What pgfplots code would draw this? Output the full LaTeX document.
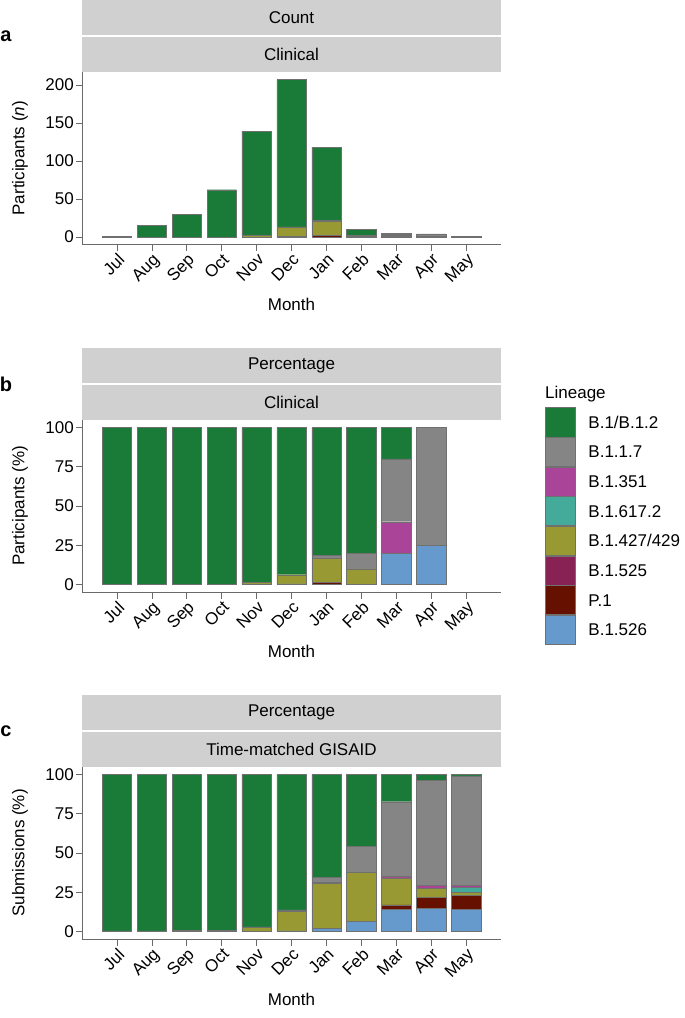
\documentclass[border=0pt]{standalone}
\usepackage{fontspec}
\setmainfont{Liberation Sans}
\setsansfont{Liberation Sans}
\usepackage{pgfplots}
\usepackage{pgfplotstable}
\pgfplotsset{compat=1.18}

\definecolor{cB1}{HTML}{1A7A38}
\definecolor{cB117}{HTML}{858585}
\definecolor{cB1351}{HTML}{AA4499}
\definecolor{cB16172}{HTML}{44AA99}
\definecolor{cB1427}{HTML}{999933}
\definecolor{cB1525}{HTML}{882255}
\definecolor{cP1}{HTML}{661100}
\definecolor{cB1526}{HTML}{6699CC}
\definecolor{cNA}{HTML}{7F7F6A}
\definecolor{stripgray}{HTML}{D0D0D0}
\definecolor{axgray}{HTML}{6A6A6A}
\definecolor{bargray}{HTML}{707070}

\newcommand\fs{\fontsize{17}{20}\selectfont}

% Panel a: counts (clinical)
\pgfplotstableread{
x b1 b117 b1351 b16172 b1427 b1525 p1 b1526 na
1 1 0 0 0 0 0 0 0 0
2 15 0 0 0 0 0 0 0 0
3 30 0 0 0 0 0 0 0 0
4 62 0 0 0 0 0 0 0 0
5 137 0 0 0 2 0 0 0 0
6 194 0 0 0 12 0 0 1 0
7 96 2 0 0 18 0 2 0 0
8 8 1 0 0 1 0 0 0 0
9 1 2 1 0 0 0 0 1 0
10 0 3 0 0 0 0 0 1 0
11 0 0 0 0 0 0 0 0 1
}\dataA

% Panel b: percentage (clinical)
\pgfplotstableread{
x b1 b117 b1351 b16172 b1427 b1525 p1 b1526
1 100 0 0 0 0 0 0 0
2 100 0 0 0 0 0 0 0
3 100 0 0 0 0 0 0 0
4 100 0 0 0 0 0 0 0
5 98.6 0 0 0 1.4 0 0 0
6 93.7 0 0 0 5.8 0 0 0.5
7 81.4 1.7 0 0 15.2 0 1.7 0
8 80 10 0 0 10 0 0 0
9 20 40 20 0 0 0 0 20
10 0 75 0 0 0 0 0 25
11 0 0 0 0 0 0 0 0
}\dataB

% Panel c: percentage (time-matched GISAID)
\pgfplotstableread{
x b1 b117 b1351 b16172 b1427 b1525 p1 b1526
1 99.5 0.5 0 0 0 0 0 0
2 99.5 0.5 0 0 0 0 0 0
3 99.2 0 0 0 0 0 0.8 0
4 99.0 0 0 0 0 0 1.0 0
5 97.0 0.5 0 0 2.5 0 0 0
6 86.2 0.7 0 0 12.6 0 0 0.5
7 65.3 3.5 0.3 0 29.0 0 0 1.9
8 45.8 16.4 0.3 0 31.1 0 0 6.4
9 17.4 47.4 1.0 0 17.2 0 2.7 14.3
10 3.8 66.8 1.7 0 5.7 0 7.0 15.0
11 1.0 69.4 1.3 3.3 1.7 0.3 8.8 14.2
}\dataC

\pgfplotsset{
  panel/.style={
    anchor=north west, width=419pt, height=173pt, scale only axis,
    xmin=0, xmax=12, xtick={1,...,11},
    xticklabels={Jul,Aug,Sep,Oct,Nov,Dec,Jan,Feb,Mar,Apr,May},
    axis x line*=bottom, axis y line*=left,
    axis line style={line width=0.6pt, draw=axgray},
    tick align=outside, major tick length=6pt,
    tick style={line width=0.6pt, draw=axgray},
    ticklabel style={font=\fs},
    xticklabel style={rotate=45, anchor=north east, inner sep=1pt},
    yticklabel style={inner sep=2pt},
    /pgf/number format/assume math mode=true,
    ybar stacked, bar width=0.84,
    every axis plot/.append style={draw=bargray, line width=0.45pt},
    every axis plot post/.append style={
      legend image code/.code={\draw[##1, draw=bargray, line width=0.45pt] (0pt,-14.6pt) rectangle (30pt,14.6pt);}},
  },
  lineages/.style={},
}

\newcommand\stackplots[1]{%
  \addplot[fill=cB1526] table[x=x,y=b1526]{#1};
  \addplot[fill=cP1] table[x=x,y=p1]{#1};
  \addplot[fill=cB1525] table[x=x,y=b1525]{#1};
  \addplot[fill=cB1427] table[x=x,y=b1427]{#1};
  \addplot[fill=cB16172] table[x=x,y=b16172]{#1};
  \addplot[fill=cB1351] table[x=x,y=b1351]{#1};
  \addplot[fill=cB117] table[x=x,y=b117]{#1};
  \addplot[fill=cB1] table[x=x,y=b1]{#1};
}

\begin{document}
\begin{tikzpicture}
\useasboundingbox (0pt,0pt) rectangle (685pt,-1018pt);

% ---------- strips ----------
\fill[stripgray] (82pt,0pt) rectangle (501pt,-35pt);
\fill[stripgray] (82pt,-37pt) rectangle (501pt,-71.7pt);
\node[font=\fs] at (291.5pt,-17.5pt) {Count};
\node[font=\fs] at (291.5pt,-54.4pt) {Clinical};

\fill[stripgray] (82pt,-347.8pt) rectangle (501pt,-382.8pt);
\fill[stripgray] (82pt,-384.8pt) rectangle (501pt,-419.5pt);
\node[font=\fs] at (291.5pt,-365.3pt) {Percentage};
\node[font=\fs] at (291.5pt,-402.2pt) {Clinical};

\fill[stripgray] (82pt,-694.8pt) rectangle (501pt,-729.8pt);
\fill[stripgray] (82pt,-731.8pt) rectangle (501pt,-766.5pt);
\node[font=\fs] at (291.5pt,-712.3pt) {Percentage};
\node[font=\fs] at (291.5pt,-749.2pt) {Time-matched GISAID};

% ---------- panel a ----------
\begin{axis}[panel, at={(82pt,-71.7pt)},
  ymin=-10.35, ymax=217.35, ytick={0,50,100,150,200}]
  \stackplots{\dataA}
  \addplot[fill=cNA] table[x=x,y=na]{\dataA};
\end{axis}

% ---------- panel b ----------
\begin{axis}[panel, at={(82pt,-419.5pt)},
  ymin=-5, ymax=105, ytick={0,25,50,75,100},
  reverse legend,
  legend style={at={(axis description cs:1.105,1.0705)}, anchor=north west,
    draw=none, fill=none, inner sep=0pt, outer sep=0pt,
    row sep=0pt, column sep=13pt, cells={anchor=west},
    nodes={inner sep=0pt, font=\fs, text height=12.3pt, text depth=0pt}},
  ]
  \stackplots{\dataB}
  \legend{B.1.526,P.1,B.1.525,B.1.427/429,B.1.617.2,B.1.351,B.1.1.7,B.1/B.1.2}
\end{axis}

% ---------- panel c ----------
\begin{axis}[panel, at={(82pt,-766.5pt)},
  ymin=-5, ymax=105, ytick={0,25,50,75,100}]
  \stackplots{\dataC}
\end{axis}

% ---------- labels ----------
\node[font=\fs, rotate=90] at (20pt,-158.2pt) {Participants (\textit{n})};
\node[font=\fs, rotate=90] at (20pt,-506pt) {Participants (\%)};
\node[font=\fs, rotate=90] at (20pt,-853pt) {Submissions (\%)};

\node[font=\fs] at (291.5pt,-304pt) {Month};
\node[font=\fs] at (291.5pt,-651.8pt) {Month};
\node[font=\fs] at (291.5pt,-999pt) {Month};

\node[font=\fontsize{20}{24}\bfseries\selectfont] at (6pt,-36pt) {a};
\node[font=\fontsize{20}{24}\bfseries\selectfont] at (6pt,-384pt) {b};
\node[font=\fontsize{20}{24}\bfseries\selectfont] at (6pt,-731pt) {c};

\node[font=\fs, anchor=west, inner sep=0pt] at (545pt,-394pt) {Lineage};
\end{tikzpicture}
\end{document}
